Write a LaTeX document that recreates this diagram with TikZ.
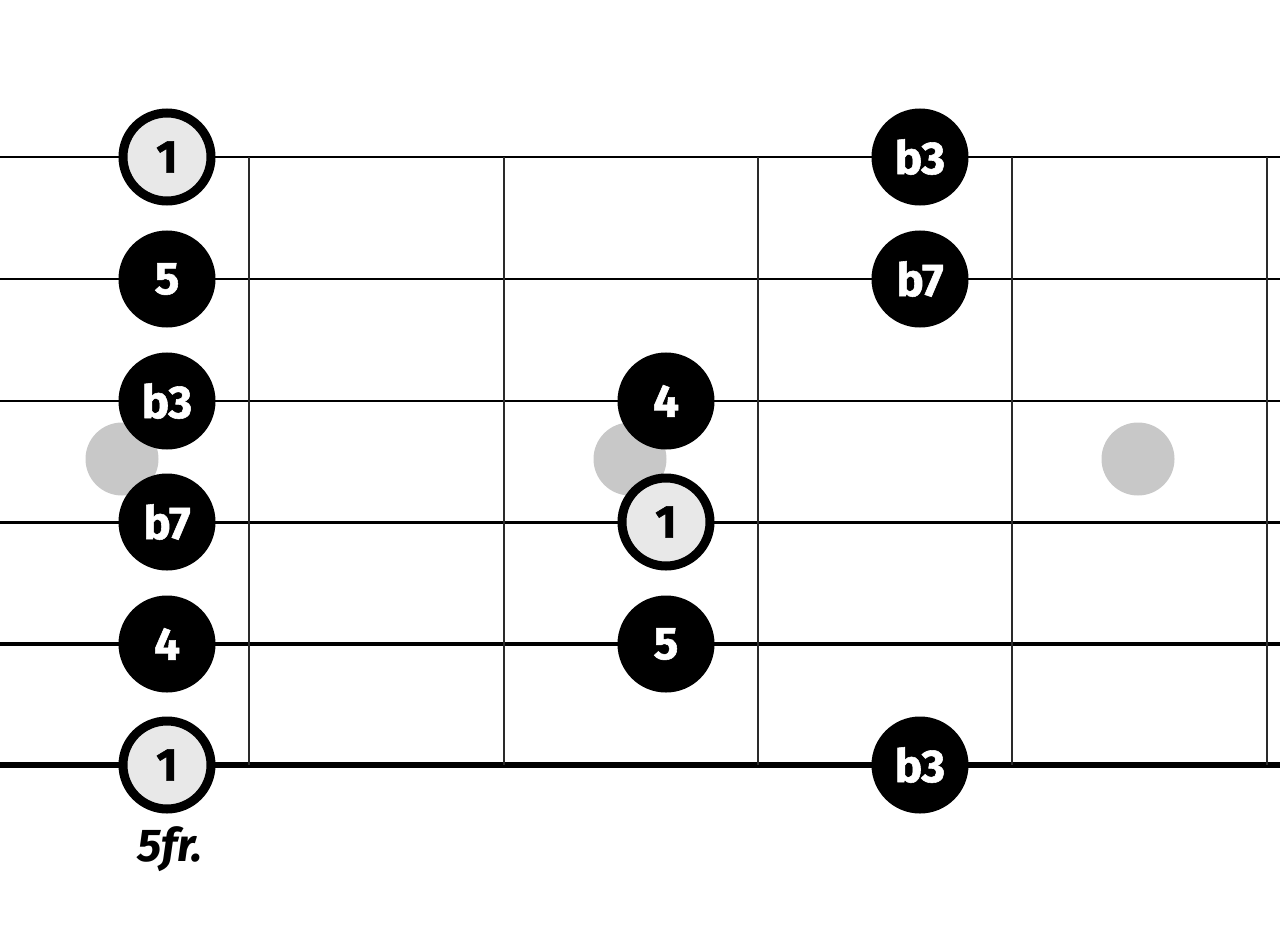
\documentclass[tikz,border=0pt]{standalone}
\usepackage{fontspec}
\setmainfont{Fira Sans}[BoldFeatures={FakeBold=1.2}]
\begin{document}
\begin{tikzpicture}[x=1pt,y=-1pt,
    note/.style={circle, fill=black, draw=black, line width=9pt, minimum size=88pt, inner sep=0pt,
        text=white, font=\fontsize{46}{46}\selectfont\bfseries},
    root/.style={note, fill=rootgray, text=black},
    inlay/.style={circle, fill=inlaygray, minimum size=73pt, inner sep=0pt},
    fret/.style={draw=fretgray, line width=2pt}]
    \definecolor{rootgray}{HTML}{E8E8E8}
    \definecolor{inlaygray}{HTML}{C8C8C8}
    \definecolor{fretgray}{HTML}{2A2A2A}
    \useasboundingbox (0,0) rectangle (1280,945);

    % strings
    \coordinate (s1l) at (0,157);  \coordinate (s1r) at (1280,157);
    \coordinate (s2l) at (0,279);  \coordinate (s2r) at (1280,279);
    \coordinate (s3l) at (0,401);  \coordinate (s3r) at (1280,401);
    \coordinate (s4l) at (0,522);  \coordinate (s4r) at (1280,522);
    \coordinate (s5l) at (0,644);  \coordinate (s5r) at (1280,644);
    \coordinate (s6l) at (0,765);  \coordinate (s6r) at (1280,765);
    \path[draw,line width=1.8pt] (s1l) -- (s1r);
    \path[draw,line width=2pt] (s2l) -- (s2r);
    \path[draw,line width=2.2pt] (s3l) -- (s3r);
    \path[draw,line width=3pt] (s4l) -- (s4r);
    \path[draw,line width=4.2pt] (s5l) -- (s5r);
    \path[draw,line width=6pt] (s6l) -- (s6r);

    % frets
    \foreach \x [count=\i] in {249,504,758,1012,1267} {
        \coordinate (f\i t) at (\x,157);
        \coordinate (f\i b) at (\x,765);
        \path[fret] (f\i t) -- (f\i b);
    }

    % inlays
    \node[inlay] (dot1) at (122,459) {};
    \node[inlay] (dot2) at (630,459) {};
    \node[inlay] (dot3) at (1138,459) {};

    % notes
    \node[root] (n11) at (167,157) {1};
    \node[note] (n12) at (920,157) {b3};
    \node[note] (n21) at (167,279) {5};
    \node[note] (n22) at (920,279) {b7};
    \node[note] (n31) at (167,401) {b3};
    \node[note] (n32) at (666,401) {4};
    \node[note] (n41) at (167,522) {b7};
    \node[root] (n42) at (666,522) {1};
    \node[note] (n51) at (167,644) {4};
    \node[note] (n52) at (666,644) {5};
    \node[root] (n61) at (167,765) {1};
    \node[note] (n62) at (920,765) {b3};

    \node[font=\fontsize{46}{46}\selectfont\bfseries\itshape] (pos) at (170,849) {5fr.};
\end{tikzpicture}
\end{document}
